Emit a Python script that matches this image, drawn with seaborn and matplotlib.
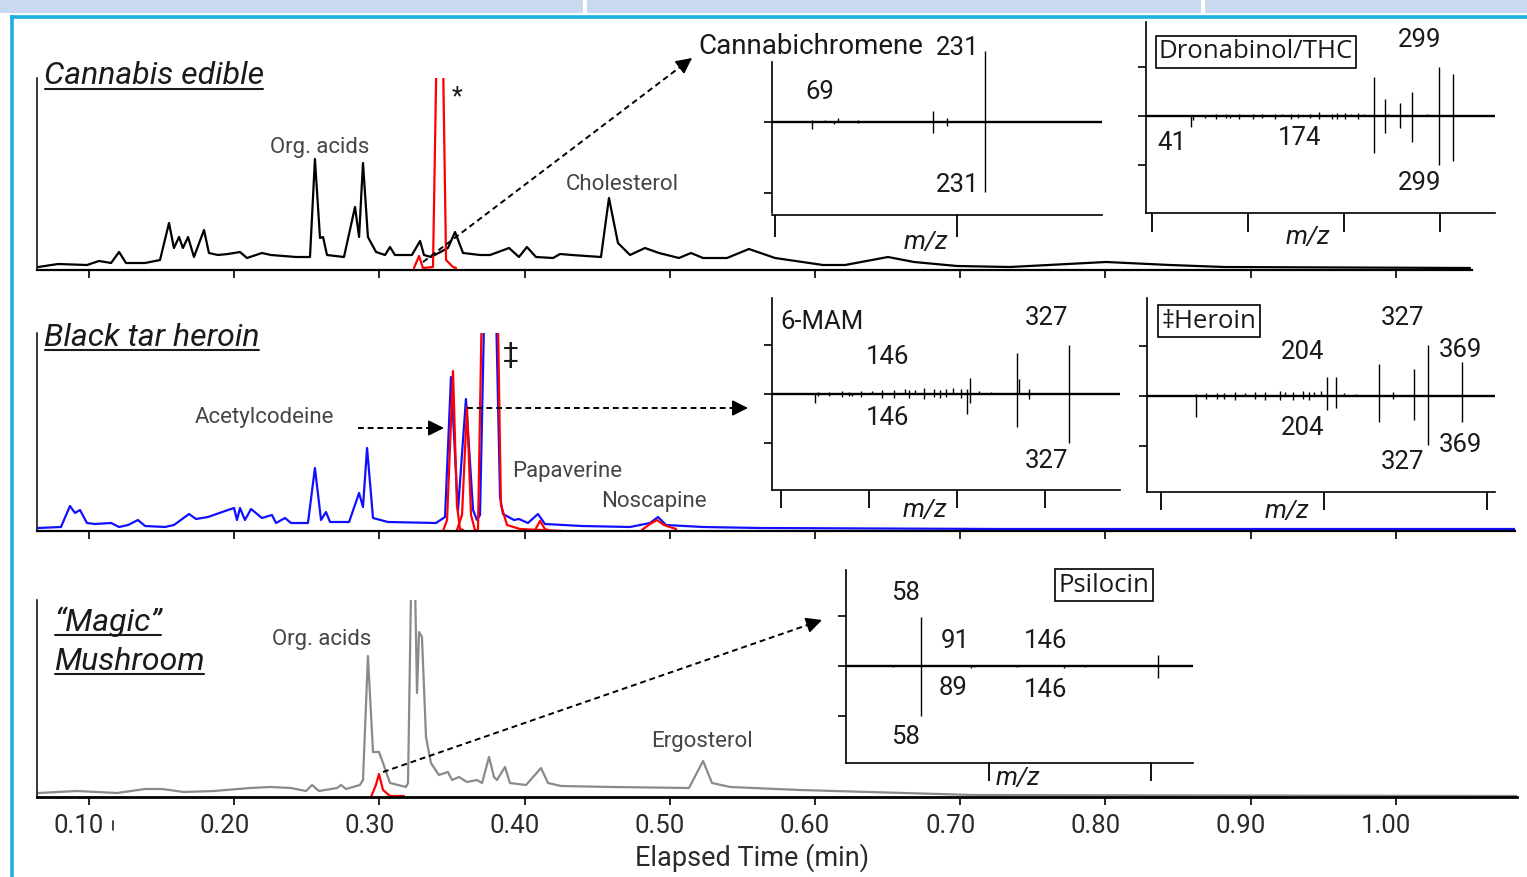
import numpy as np
import pandas as pd
import matplotlib
matplotlib.use("Agg")
import matplotlib.pyplot as plt
import seaborn as sns
from matplotlib.patches import Rectangle
from matplotlib.transforms import ScaledTranslation

# ---------------- data ----------------
TIME_TICKS = [0.10, 0.20, 0.30, 0.40, 0.50, 0.60, 0.70, 0.80, 0.90, 1.00]
TIME_LABELS = ["0.10", "0.20", "0.30", "0.40", "0.50", "0.60", "0.70", "0.80", "0.90", "1.00"]

# Cannabis edible TIC (black) -- time (min), intensity (a.u.)
edible_t = [0.065, 0.0787, 0.0986, 0.1069, 0.1152, 0.1207, 0.1255, 0.1386, 0.1489, 0.1551,
            0.1585, 0.1620, 0.1647, 0.1682, 0.1723, 0.1792, 0.1826, 0.1888, 0.1957, 0.2040,
            0.2088, 0.2191, 0.2253, 0.2426, 0.2522, 0.2556, 0.2591, 0.2612, 0.2639, 0.2756,
            0.2832, 0.2860, 0.2887, 0.2921, 0.2977, 0.3039, 0.3073, 0.3107, 0.3224, 0.3280,
            0.3307, 0.3355, 0.3472, 0.3521, 0.3576, 0.3693, 0.3762, 0.3893, 0.3961, 0.4016,
            0.4078, 0.4196, 0.4244, 0.4326, 0.4526, 0.4581, 0.4643, 0.4726, 0.4829, 0.4926,
            0.5063, 0.5146, 0.5229, 0.5394, 0.5545, 0.5725, 0.6055, 0.6207, 0.6503, 0.6682,
            0.6978, 0.7343, 0.8004, 0.8445, 0.8817, 1.0511]
edible_i = [3, 6, 5, 9, 7, 18, 7, 7, 10, 47,
            22, 33, 22, 33, 13, 40, 17, 15, 16, 18,
            12, 17, 15, 13, 13, 111, 32, 33, 15, 13,
            63, 33, 107, 33, 18, 15, 23, 15, 15, 29,
            15, 13, 22, 38, 17, 15, 15, 22, 13, 23,
            13, 12, 16, 15, 13, 72, 27, 15, 22, 17,
            12, 17, 12, 12, 21, 12, 5, 5, 13, 8,
            4, 3, 8, 5, 3, 2]
# extracted ion trace (red), edible
edible_eic_t = [0.3238, 0.3273, 0.3300, 0.3369, 0.3417, 0.3459, 0.3507, 0.3528]
edible_eic_i = [2, 14, 2, 3, 420, 10, 3, 2]

# Black tar heroin TIC (blue)
heroin_t = [0.065, 0.0807, 0.0869, 0.0904, 0.0938, 0.0986, 0.1041, 0.1152, 0.1207, 0.1269,
            0.1337, 0.1386, 0.1523, 0.1585, 0.1689, 0.1737, 0.1820, 0.1957, 0.1999, 0.2019,
            0.2040, 0.2074, 0.2116, 0.2191, 0.2260, 0.2288, 0.2350, 0.2391, 0.2508, 0.2556,
            0.2598, 0.2632, 0.2660, 0.2791, 0.2860, 0.2887, 0.2915, 0.2956, 0.3059, 0.3390,
            0.3452, 0.3493, 0.3541, 0.3596, 0.3645, 0.3672, 0.3693, 0.3762, 0.3831, 0.3851,
            0.3927, 0.3961, 0.4023, 0.4092, 0.4140, 0.4395, 0.4726, 0.4864, 0.4919, 0.4974,
            0.5229, 0.5621, 0.7274, 1.0821]
heroin_i = [3, 4, 25, 18, 21, 8, 7, 8, 4, 6,
            11, 5, 4, 6, 17, 12, 14, 21, 23, 11,
            23, 11, 22, 13, 16, 8, 13, 8, 8, 63,
            11, 19, 9, 9, 38, 24, 83, 13, 9, 8,
            14, 154, 20, 132, 21, 11, 16, 500, 34, 17,
            11, 12, 8, 17, 7, 5, 4, 8, 14, 6,
            4, 3, 2, 2]
# extracted ion traces (red), heroin: one segment per compound
heroin_eic_seg = ["a"] * 6 + ["b"] * 6 + ["c"] * 6 + ["d"] * 4 + ["e"] * 5
heroin_eic_t = [0.3438, 0.3466, 0.3507, 0.3534, 0.3555, 0.3576,
                0.3534, 0.3569, 0.3603, 0.3631, 0.3658, 0.3679,
                0.3679, 0.3762, 0.3837, 0.3879, 0.3968, 0.4264,
                0.4072, 0.4106, 0.4140, 0.4161,
                0.4808, 0.4864, 0.4912, 0.4960, 0.5043]
heroin_eic_i = [0, 11, 160, 26, 2, 1,
                1, 16, 124, 16, 1, 0,
                1, 700, 26, 6, 2, 0,
                1, 10, 2, 1,
                1, 7, 11, 6, 2]

# "Magic" mushroom TIC (grey)
mush_t = [0.065, 0.0917, 0.1193, 0.1386, 0.1503, 0.1654, 0.1861, 0.2109, 0.2247, 0.2391,
          0.2494, 0.2536, 0.2584, 0.2708, 0.2736, 0.2770, 0.2866, 0.2887, 0.2921, 0.2956,
          0.2997, 0.3025, 0.3073, 0.3183, 0.3197, 0.3231, 0.3259, 0.3273, 0.3293, 0.3321,
          0.3355, 0.3410, 0.3472, 0.3500, 0.3548, 0.3603, 0.3672, 0.3707, 0.3755, 0.3789,
          0.3810, 0.3865, 0.3899, 0.4010, 0.4113, 0.4161, 0.4251, 0.4602, 0.5132, 0.5229,
          0.5291, 0.5415, 0.5897, 0.7088, 1.0835]
mush_i = [4, 6, 4, 8, 8, 5, 6, 9, 10, 9,
          6, 12, 6, 9, 12, 8, 12, 17, 141, 45,
          45, 34, 14, 10, 14, 330, 104, 165, 160, 60,
          34, 22, 25, 17, 20, 15, 17, 14, 40, 20,
          17, 30, 14, 12, 29, 14, 11, 10, 9, 36,
          14, 10, 7, 2, 1]
mush_eic_t = [0.2942, 0.2976, 0.2997, 0.3025, 0.3073, 0.3169]
mush_eic_i = [0, 12, 23, 7, 1, 1]

# Mass spectra: sample (up) and library (down), m/z and relative abundance (%)
cbc_up_mz = [41, 55, 69, 91, 174, 189, 231, 300, 318]
cbc_up_in = [3, 3, 6, 3, 16, 6, 100, 2, 2]
cbc_dn_mz = [41, 65, 91, 174, 189, 231]
cbc_dn_in = [10, 3, 2, 15, 5, 98]

thc_up_mz = [41, 55, 67, 77, 91, 105, 115, 128, 135, 145, 152, 165, 174, 187, 193, 201,
             207, 215, 221, 231, 243, 246, 258, 271, 286, 299, 314]
thc_up_in = [3, 3, 4, 4, 5, 4, 4, 5, 4, 5, 4, 5, 8, 5, 6, 6,
             5, 6, 4, 80, 35, 4, 27, 49, 4, 100, 85]
thc_dn_mz = [41, 43, 55, 67, 77, 81, 91, 105, 115, 128, 145, 152, 165, 174, 187, 193,
             201, 215, 231, 243, 258, 271, 299, 314]
thc_dn_in = [22, 8, 5, 6, 5, 5, 7, 6, 5, 6, 6, 5, 5, 7, 6, 7,
             6, 6, 75, 35, 25, 53, 100, 92]

mam_up_mz = [42, 55, 69, 77, 91, 103, 115, 128, 141, 146, 152, 162, 174, 181, 188, 196,
             204, 211, 215, 225, 239, 268, 270, 282, 327]
mam_up_in = [4, 5, 6, 5, 7, 6, 8, 9, 10, 8, 9, 12, 10, 9, 10, 12,
             11, 10, 33, 6, 5, 84, 30, 10, 100]
mam_dn_mz = [39, 42, 55, 69, 77, 81, 91, 115, 128, 146, 162, 174, 181, 188, 204, 211,
             215, 268, 282, 327]
mam_dn_in = [18, 4, 5, 6, 5, 4, 7, 8, 9, 8, 10, 7, 8, 6, 9, 40,
             18, 67, 10, 100]

her_up_mz = [43, 55, 69, 77, 91, 103, 115, 128, 146, 152, 162, 174, 181, 188, 196, 204,
             215, 225, 239, 268, 285, 310, 327, 369]
her_up_in = [5, 6, 7, 6, 8, 7, 8, 9, 10, 8, 9, 10, 9, 8, 10, 38,
             38, 6, 5, 64, 8, 54, 102, 68]
her_dn_mz = [43, 55, 69, 77, 91, 115, 128, 146, 162, 174, 181, 204, 215, 268, 285, 310,
             327, 369]
her_dn_in = [42, 5, 6, 5, 7, 6, 7, 8, 7, 6, 7, 28, 24, 52, 6, 48,
             98, 52]

psi_up_mz = [41, 58, 89, 91, 117, 130, 146, 159, 204]
psi_up_in = [2, 98, 2, 3, 2, 2, 3, 2, 22]
psi_dn_mz = [41, 58, 89, 91, 117, 146, 159, 204]
psi_dn_in = [2, 100, 3, 2, 2, 3, 2, 24]

# ---------------- figure ----------------
sns.set_theme(style="white")
plt.rcParams["font.family"] = ["Roboto", "DejaVu Sans"]

W, H = 1527, 877
fig = plt.figure(figsize=(W / 100, H / 100), dpi=100)
fig.patch.set_facecolor("white")


def px_axes(l, t, r, b):
    ax = fig.add_axes([l / W, 1 - b / H, (r - l) / W, (b - t) / H])
    ax.set_facecolor("none")
    return ax


T0_PX, PX_PER_MIN = 89, 1452


def tlim(l, r):
    return (0.1 + (l - T0_PX) / PX_PER_MIN, 0.1 + (r - T0_PX) / PX_PER_MIN)


def style_chrom(ax, rect, tick_len, spine_w):
    ax.set_xlim(*tlim(rect[0], rect[2]))
    ax.set_ylim(0, rect[3] - rect[1])
    for s in ("top", "right"):
        ax.spines[s].set_visible(False)
    ax.spines["left"].set_linewidth(1.1)
    ax.spines["bottom"].set_linewidth(spine_w)
    for s in ("left", "bottom"):
        ax.spines[s].set_color("black")
    ax.set_xticks(TIME_TICKS)
    ax.set_yticks([])
    ax.tick_params(axis="x", bottom=True, direction="out", length=tick_len,
                   width=1.2, color="black", labelbottom=False)
    ax.set_xlabel("")
    ax.set_ylabel("")


# --- top: cannabis edible
r_top = (37, 78, 1472, 270)
ax1 = px_axes(*r_top)
sns.lineplot(x=edible_t, y=edible_i, ax=ax1, color="black", lw=1.6,
             estimator=None, sort=False)
sns.lineplot(x=edible_eic_t, y=edible_eic_i, ax=ax1, color="#ff0000", lw=1.6,
             estimator=None, sort=False)
style_chrom(ax1, r_top, 6, 1.6)

# --- middle: black tar heroin
r_mid = (37, 333, 1515, 531)
ax2 = px_axes(*r_mid)
sns.lineplot(x=heroin_t, y=heroin_i, ax=ax2, color="#1010ff", lw=1.6,
             estimator=None, sort=False)
eic = pd.DataFrame({"t": heroin_eic_t, "i": heroin_eic_i, "seg": heroin_eic_seg})
sns.lineplot(data=eic, x="t", y="i", units="seg", estimator=None, sort=False,
             ax=ax2, color="#ff0000", lw=1.6)
style_chrom(ax2, r_mid, 6, 1.6)

# --- bottom: magic mushroom
r_bot = (37, 600, 1517, 797)
ax3 = px_axes(*r_bot)
sns.lineplot(x=mush_t, y=mush_i, ax=ax3, color="#8a8a8a", lw=1.6,
             estimator=None, sort=False)
sns.lineplot(x=mush_eic_t, y=mush_eic_i, ax=ax3, color="#ff0000", lw=1.6,
             estimator=None, sort=False)
style_chrom(ax3, r_bot, 5.5, 2.0)
ax3.tick_params(axis="x", labelbottom=True, labelsize=18.5, labelcolor="#2a2a2a", pad=7)
ax3.set_xticklabels(TIME_LABELS)
shift = ScaledTranslation(-10 / 100, 0, fig.dpi_scale_trans)
for lab in ax3.get_xticklabels():
    lab.set_transform(lab.get_transform() + shift)
ax3.set_xlabel("Elapsed Time (min)", fontsize=19.5, color="#2a2a2a", labelpad=3)
ax3.xaxis.set_label_coords((752 - 37) / (1517 - 37), -0.235)


# --- mass spectra insets
def spectrum(rect, xlim, ylim, xticks, yticks, up_mz, up_in, dn_mz, dn_in,
             xtick_len, spine_top=None):
    ax = px_axes(*rect)
    ax.vlines(up_mz, 0, up_in, color="black", lw=1.0)
    ax.vlines(dn_mz, 0, -np.asarray(dn_in), color="black", lw=1.0)
    ax.axhline(0, color="black", lw=1.7)
    ax.set_xlim(*xlim)
    ax.set_ylim(*ylim)
    ax.set_xticks(xticks)
    ax.set_yticks(yticks)
    for s in ("top", "right"):
        ax.spines[s].set_visible(False)
    for s in ("left", "bottom"):
        ax.spines[s].set_color("black")
        ax.spines[s].set_linewidth(1.2)
    if spine_top is not None:
        ax.spines["left"].set_bounds(ylim[0] + 3, spine_top)
    ax.tick_params(axis="x", bottom=True, direction="out", length=xtick_len,
                   width=1.3, color="black", labelbottom=False)
    ax.tick_params(axis="y", left=True, direction="out", length=6,
                   width=1.2, color="black", labelleft=False)
    return ax


spectrum((772, 40, 1102, 215), (-3.3, 359.3), (-131, 115.5), [0, 200], [0, -100],
         cbc_up_mz, cbc_up_in, cbc_dn_mz, cbc_dn_in, 16, spine_top=84.5)
spectrum((1146, 22, 1495, 213), (-6.25, 357.3), (-198, 191.8), [0, 100, 200, 300],
         [-100, 0, 100], thc_up_mz, thc_up_in, thc_dn_mz, thc_dn_in, 14)
spectrum((772, 298, 1120, 490), (-10.2, 385.2), (-195.9, 195.9), [0, 100, 200, 300],
         [-100, 0, 100], mam_up_mz, mam_up_in, mam_dn_mz, mam_dn_in, 13)
spectrum((1147, 298, 1495, 492), (-17.2, 409.8), (-192, 196), [0, 200, 400],
         [-100, 0, 100], her_up_mz, her_up_in, her_dn_mz, her_dn_in, 13)
spectrum((846, 570, 1193, 763), (11.7, 225.9), (-194, 192), [100, 200],
         [-100, 0, 100], psi_up_mz, psi_up_in, psi_dn_mz, psi_dn_in, 13)

# ---------------- overlay: frame, labels, arrows ----------------
ov = fig.add_axes([0, 0, 1, 1], zorder=10)
ov.set_xlim(0, W)
ov.set_ylim(H, 0)
ov.axis("off")
ov.patch.set_alpha(0)

ov.add_patch(Rectangle((0, 0), W, 13, color="#c9d9ef", lw=0))
ov.add_patch(Rectangle((583, 0), 4, 13, color="white", lw=0))
ov.add_patch(Rectangle((1201, 0), 4, 13, color="white", lw=0))
ov.plot([10, W], [16.5, 16.5], color="#1cb0e0", lw=2.6, solid_capstyle="butt")
ov.plot([11.5, 11.5], [15, H], color="#1cb0e0", lw=2.6, solid_capstyle="butt")

GREY = "#454545"
DARK = "#1a1a1a"


def label(x, y, s, size=18.5, color=DARK, ha="center", weight="normal", **kw):
    return ov.text(x, y, s, fontsize=size, color=color, ha=ha, va="center",
                   fontweight=weight, **kw)


# titles (italic, underlined)
titles = [
    (44, 84, "Cannabis edible", 89),
    (44, 346, "Black tar heroin", 350),
    (54, 631, "\u201cMagic\u201d", 635),
    (54, 670, "Mushroom", 674),
]
title_texts = []
for x, y, s, uy in titles:
    t = ov.text(x, y, s, fontsize=23, style="italic", color=DARK, ha="left",
                va="baseline")
    title_texts.append((t, uy))

# chromatogram annotations
label(320, 148, "Org. acids", 16, GREY)
label(622, 184, "Cholesterol", 16, GREY)
label(457, 97, "*", 18, DARK)
label(264, 418, "Acetylcodeine", 16, GREY)
label(511, 355, "\u2021", 20, DARK)
label(567, 471, "Papaverine", 16, GREY)
label(654, 501, "Noscapine", 16, GREY)
label(322, 639, "Org. acids", 16, GREY)
label(702, 741, "Ergosterol", 16, GREY)

# spectrum annotations
label(698, 46, "Cannabichromene", 20, DARK, ha="left")
label(958, 48, "231")
label(820, 92, "69")
label(958, 185, "231")
label(926, 242, "m/z", style="italic")

box = dict(boxstyle="square,pad=0.12", fc="white", ec="black", lw=1.2)
label(1256, 52, "Dronabinol/THC", 18.5, DARK,
      family=["Open Sans", "DejaVu Sans"], bbox=box)
label(1420, 40, "299")
label(1420, 183, "299")
label(1172, 143, "41")
label(1300, 138, "174")
label(1308, 237, "m/z", style="italic")

label(780, 322, "6-MAM", 18.5, DARK, ha="left")
label(1047, 318, "327")
label(888, 357, "146")
label(888, 418, "146")
label(1047, 461, "327")
label(925, 510, "m/z", style="italic")

label(1209, 321, "\u2021Heroin", 18.5, DARK,
      family=["Open Sans", "DejaVu Sans"], bbox=box)
label(1402, 318, "327")
label(1303, 352, "204")
label(1460, 350, "369")
label(1303, 428, "204")
label(1402, 462, "327")
label(1460, 445, "369")
label(1287, 511, "m/z", style="italic")

label(1104, 585, "Psilocin", 18.5, DARK,
      family=["Open Sans", "DejaVu Sans"], bbox=box)
label(905, 593, "58")
label(955, 641, "91")
label(1045, 641, "146")
label(953, 688, "89")
label(1045, 690, "146")
label(905, 737, "58")
label(1018, 778, "m/z", style="italic")

# stray mark next to 0.10
ov.plot([113, 113], [821, 830], color="#222222", lw=1.2)


# dashed arrows
def dashed_arrow(x0, y0, x1, y1):
    ov.plot([x0, x1], [y0, y1], color="black", lw=1.4, ls=(0, (3, 2)))
    d = np.array([x1 - x0, y1 - y0], dtype=float)
    d /= np.hypot(*d)
    start = (x1 - 10 * d[0], y1 - 10 * d[1])
    ov.annotate("", xy=(x1, y1), xytext=start,
                arrowprops=dict(arrowstyle="-|>,head_length=0.8,head_width=0.4",
                                color="black", lw=1.2, shrinkA=0, shrinkB=0,
                                mutation_scale=12))


dashed_arrow(423, 262, 692, 58)
dashed_arrow(358, 428, 444, 428)
dashed_arrow(467, 408, 748, 408)
dashed_arrow(383, 772, 822, 620)

# underline the titles
fig.canvas.draw()
rend = fig.canvas.get_renderer()
inv = ov.transData.inverted()
for t, uy in title_texts:
    bb = t.get_window_extent(rend)
    xa = inv.transform((bb.x0, bb.y0))[0]
    xb = inv.transform((bb.x1, bb.y0))[0]
    ov.plot([xa + 1, xb - 1], [uy, uy], color=DARK, lw=1.5)

fig.savefig("out.png", dpi=100)
